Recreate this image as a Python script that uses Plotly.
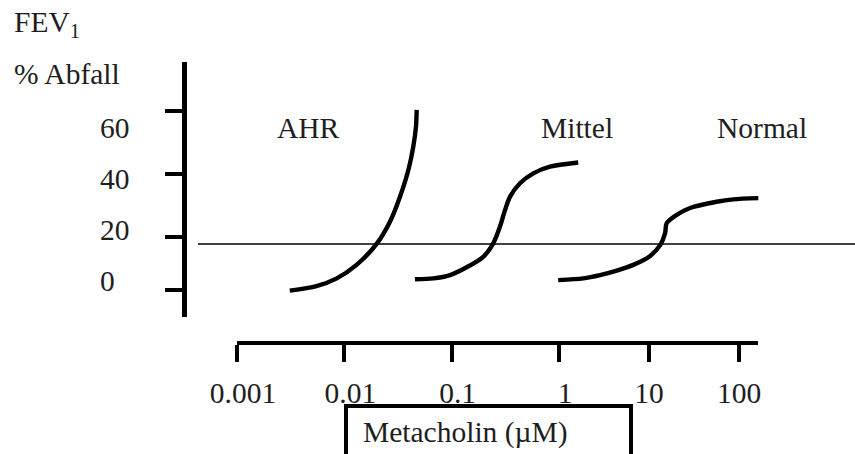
import plotly.graph_objects as go

# ---------------- data ----------------
ahr_conc = [0.0031, 0.0055, 0.0085, 0.0130, 0.0200, 0.0266, 0.0330, 0.0395, 0.0439, 0.0465, 0.0472]
ahr_fall = [-0.2, 1.3, 3.9, 8.4, 15.4, 22.8, 31.2, 40.1, 47.9, 54.6, 60.2]

mittel_conc = [0.0455, 0.0675, 0.0965, 0.138, 0.197, 0.244, 0.282, 0.314, 0.350, 0.433, 0.577, 0.825, 1.51]
mittel_fall = [3.6, 3.9, 5.0, 7.6, 11.1, 15.6, 21.2, 26.7, 31.2, 35.7, 39.0, 41.2, 42.6]

normal_conc = [0.98, 1.86, 2.86, 4.38, 6.69, 10.3, 13.3, 15.1, 15.7, 20.3, 28.6, 56.5, 86.4, 164.0]
normal_fall = [3.3, 3.9, 5.0, 6.5, 8.4, 11.4, 15.0, 19.0, 22.3, 25.1, 27.4, 29.5, 30.3, 30.7]

threshold = 15.4

curve_names = ["AHR", "Mittel", "Normal"]

x_ticks_low = [0.001, 0.01, 0.1, 1]
x_ticks_low_text = ["0.001", "0.01", "0.1", "1"]
x_ticks_high = [10, 100]
x_ticks_high_text = ["10", "100"]

y_ticks_upper = [20, 40, 60]
y_ticks_lower = [0]
y_label_vals = [0, 20, 40, 60]
y_label_text = ["0", "20", "40", "60"]

x_title = "Metacholin (µM)"
y_title_1 = "FEV<sub>1</sub>"
y_title_2 = "% Abfall"

# ---------------- geometry helpers (pixel layout) ----------------
W, H = 855, 454
FONT = "Liberation Serif"
TXT = "#1e1e1e"
FS = 29.5


def px(x):
    return x / W


def py(y):
    return 1 - y / H


# curve axes (full canvas), log x with 107.33 px/decade, 0.001 at 237 px
dec1 = (559 - 237) / 3.0
xr1 = [-3 - 237 / dec1, -3 + (W - 237) / dec1]
dec2 = 90.0
xr2 = [(0 - 559) / dec2, (W - 559) / dec2]
ys = (290 - 110.5) / 60.0
yr = [-(H - 290) / ys, 290 / ys]

fig = go.Figure()

line_style = dict(color="black", width=4.4, shape="spline", smoothing=0.8)
fig.add_trace(go.Scatter(x=ahr_conc, y=ahr_fall, mode="lines", line=line_style,
                         xaxis="x", yaxis="y", name=curve_names[0], showlegend=False, hoverinfo="skip"))
fig.add_trace(go.Scatter(x=mittel_conc, y=mittel_fall, mode="lines", line=line_style,
                         xaxis="x", yaxis="y", name=curve_names[1], showlegend=False, hoverinfo="skip"))
fig.add_trace(go.Scatter(x=normal_conc, y=normal_fall, mode="lines", line=line_style,
                         xaxis="x2", yaxis="y", name=curve_names[2], showlegend=False, hoverinfo="skip"))

# empty traces to instantiate the visible axes
for xa, ya in [("x3", "y2"), ("x4", "y3"), ("x", "y4")]:
    fig.add_trace(go.Scatter(x=[None], y=[None], xaxis=xa, yaxis=ya, showlegend=False, hoverinfo="skip"))

hidden = dict(visible=False, showgrid=False, zeroline=False)
tickfont = dict(family=FONT, size=FS, color=TXT)

xt_common = dict(type="log", anchor="free", position=py(343), showline=True, linecolor="black",
                 linewidth=4, ticks="outside", ticklen=17, tickwidth=3.5, tickcolor="black",
                 showgrid=False, zeroline=False, tickfont=tickfont, automargin=False,
                 ticklabelstandoff=6)
yt_common = dict(anchor="free", position=px(184), showline=True, linecolor="black", linewidth=5,
                 ticks="outside", ticklen=17, tickwidth=4, tickcolor="black", showgrid=False,
                 zeroline=False, showticklabels=False, automargin=False)

fig.update_layout(
    width=W, height=H, autosize=False,
    margin=dict(l=0, r=0, t=0, b=0, pad=0, autoexpand=False),
    paper_bgcolor="white", plot_bgcolor="rgba(0,0,0,0)",
    xaxis=dict(type="log", domain=[0, 1], range=xr1, **hidden),
    xaxis2=dict(type="log", domain=[0, 1], range=xr2, overlaying="x", **hidden),
    yaxis=dict(domain=[0, 1], range=yr, **hidden),
    xaxis3=dict(domain=[px(237), px(559)], range=[-3, 0], tickvals=x_ticks_low,
                ticktext=x_ticks_low_text, ticklabelshift=6, **xt_common),
    xaxis4=dict(domain=[px(559), px(758)], range=[0, (758 - 559) / dec2], tickvals=x_ticks_high,
                ticktext=x_ticks_high_text, **xt_common),
    yaxis2=dict(domain=[py(237), py(62)], range=[20, 20 + (237 - 62) / ((237 - 110.5) / 40)],
                tickvals=y_ticks_upper, **yt_common),
    yaxis3=dict(domain=[py(317), py(237)], range=[20 - (317 - 237) / ((290 - 237) / 20), 20],
                tickvals=y_ticks_lower, **yt_common),
    yaxis4=dict(domain=[0, 1], range=[-(H - 281) / ((281 - 128) / 60), 60 + 128 / ((281 - 128) / 60)],
                anchor="free", position=px(99), side="right", showline=False, ticks="",
                showgrid=False, zeroline=False, tickvals=y_label_vals, ticktext=y_label_text,
                tickfont=tickfont, automargin=False),
)

# threshold line
fig.add_shape(type="line", xref="paper", yref="y", x0=px(198), x1=1.0, y0=threshold, y1=threshold,
              line=dict(color="black", width=1.6))

# box around x title
fig.add_shape(type="rect", xref="paper", yref="paper", x0=px(346), x1=px(631), y0=py(406), y1=-0.2,
              line=dict(color="black", width=4), fillcolor="rgba(0,0,0,0)")

ann_font = dict(family=FONT, size=FS, color=TXT)
fig.add_annotation(x=px(465), y=py(432), xref="paper", yref="paper", text=x_title,
                   showarrow=False, xanchor="center", yanchor="middle", font=ann_font)
fig.add_annotation(x=px(12), y=py(24), xref="paper", yref="paper", text=y_title_1,
                   showarrow=False, xanchor="left", yanchor="middle", font=ann_font)
fig.add_annotation(x=px(12), y=py(74), xref="paper", yref="paper", text=y_title_2,
                   showarrow=False, xanchor="left", yanchor="middle", font=ann_font)

for name, cx in zip(curve_names, [308, 577, 762]):
    fig.add_annotation(x=px(cx), y=py(128), xref="paper", yref="paper", text=name,
                       showarrow=False, xanchor="center", yanchor="middle", font=ann_font)

fig.write_html("out.html")
